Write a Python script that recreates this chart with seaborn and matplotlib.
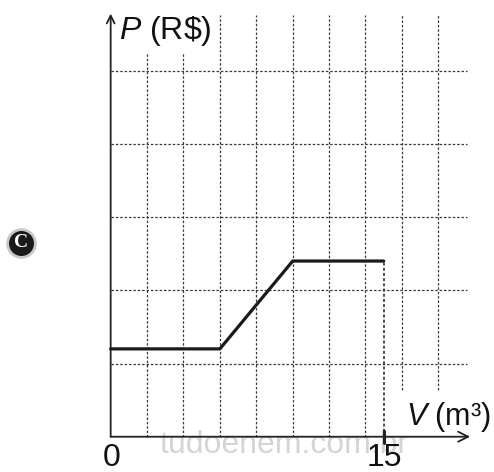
import numpy as np
import pandas as pd
import matplotlib
matplotlib.use('Agg')
import matplotlib.pyplot as plt
import seaborn as sns

sns.set_style('white')
plt.rcParams['font.family'] = ['Liberation Sans', 'DejaVu Sans']
plt.rcParams['mathtext.fontset'] = 'custom'
plt.rcParams['mathtext.rm'] = 'Liberation Sans'
plt.rcParams['mathtext.it'] = 'Liberation Sans:italic'

# data: volume (m3) and price (R$)
volume = [0, 6, 10, 15]
price = [12, 12, 24, 24]
v_grid = [2, 4, 6, 8, 10, 12, 14, 16, 18]
p_grid = [10, 20, 30, 40, 50]
x_ticks = [0, 15]
x_tick_labels = ['0', '15']

df = pd.DataFrame({'V': volume, 'P': price})

fig = plt.figure(figsize=(4.94, 4.72), dpi=100)
ax = fig.add_axes([0, 0, 1, 1])
ax.set_xlim(-6.08, 21.06)
ax.set_ylim(-4.82, 59.66)
ax.axis('off')

grid_kw = dict(color='#3a3a3a', lw=0.9, linestyle=(0, (2, 1.5)), zorder=1)

# grid
for p in p_grid:
    ax.plot([0, 19.6], [p, p], **grid_kw)
for v in v_grid:
    top = 52.4 if v < 5 else 57.6
    bottom = 6.4 if v > 15 else 0
    ax.plot([v, v], [bottom, top], **grid_kw)

# axes with arrows
ax.annotate('', xy=(19.75, 0), xytext=(0, 0),
            arrowprops=dict(arrowstyle='->', lw=1.3, color='#222222',
                            shrinkA=0, shrinkB=0, mutation_scale=18), zorder=3)
ax.annotate('', xy=(0, 57.8), xytext=(0, 0),
            arrowprops=dict(arrowstyle='->', lw=1.3, color='#222222',
                            shrinkA=0, shrinkB=0, mutation_scale=14), zorder=3)

# price curve
sns.lineplot(data=df, x='V', y='P', color='#1a1a1a', lw=2.3, ax=ax,
             legend=False, zorder=4)
ax.plot([volume[-1], volume[-1]], [0, price[-1]], color='#222222', lw=1.1,
        linestyle=(0, (2, 1.4)), zorder=3)
ax.plot([15, 15], [-0.8, 0.8], color='#222222', lw=2.2, zorder=4)

# watermark
ax.text(9.5, -1.1, 'tudoenem.com.br', fontsize=23, color='#d4d4d4',
        ha='center', va='center', zorder=2)

# labels
for v, lab in zip(x_ticks, x_tick_labels):
    ax.text(v + 0.05, -2.9, lab, fontsize=23, color='#111111',
            ha='center', va='center', zorder=5)
ax.text(0.45, 55.4, r'$P$ (R\$)', fontsize=23, color='#111111',
        ha='left', va='center', zorder=5)
ax.text(16.2, 2.7, r'$V$ (m³)', fontsize=22, color='#111111',
        ha='left', va='center', zorder=5)

# option badge
ax.scatter([-4.95], [26.5], s=400, color='#1a1a1a', edgecolors='#c8c8c8',
           linewidths=2, zorder=5)
ax.text(-4.95, 26.5, 'C', fontsize=14, fontweight='bold', color='white',
        family='Liberation Serif', ha='center', va='center', zorder=6)

fig.savefig('out.png', dpi=100)
